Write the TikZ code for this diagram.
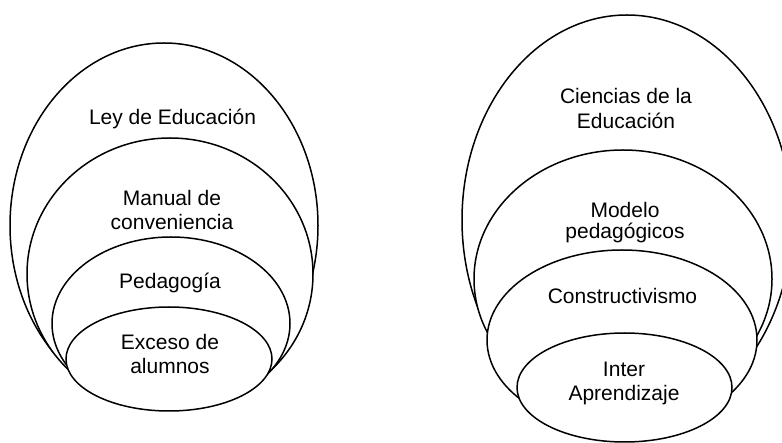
\documentclass[tikz,border=0pt]{standalone}
\usepackage{fontspec}
\setmainfont{Liberation Sans}
\usetikzlibrary{shapes.geometric}
\begin{document}
\begin{tikzpicture}[x=1pt,y=-1pt,
  ring/.style={ellipse, draw=black, fill=white, line width=1.5pt, inner sep=0pt, outer sep=0pt},
  lbl/.style={anchor=base, inner sep=0pt, font=\fontsize{21}{24}\selectfont}]
\useasboundingbox (0,0) rectangle (782,443);
\clip (0,0) rectangle (782,443);
% left stack
\node[ring, minimum width=308pt, minimum height=365pt] (L1) at (164,225.5) {};
\node[ring, minimum width=286pt, minimum height=272pt] (L2) at (170,274) {};
\node[ring, minimum width=238pt, minimum height=173pt] (L3) at (171,323.5) {};
\node[ring, minimum width=206pt, minimum height=104pt] (L4) at (169,359) {};
% right stack
\node[ring, minimum width=330pt, minimum height=410pt] (R1) at (627,220) {};
\node[ring, minimum width=298pt, minimum height=258pt] (R2) at (623,279) {};
\node[ring, minimum width=270pt, minimum height=180pt] (R3) at (622,340) {};
\node[ring, minimum width=215pt, minimum height=109pt] (R4) at (624.5,387.5) {};
% left labels
\node[lbl] (t1) at (172.5,125) {Ley de Educación};
\node[lbl] (t2a) at (172,205.7) {Manual de};
\node[lbl] (t2b) at (172,230) {conveniencia};
\node[lbl] (t3) at (170,289) {Pedagogía};
\node[lbl] (t4a) at (170,350) {Exceso de};
\node[lbl] (t4b) at (170,374) {alumnos};
% right labels
\node[lbl] (s1a) at (626,103.3) {Ciencias de la};
\node[lbl] (s1b) at (626,128.7) {Educación};
\node[lbl] (s2a) at (625,217.3) {Modelo};
\node[lbl] (s2b) at (625,238.3) {pedagógicos};
\node[lbl] (s3) at (622.5,303.3) {Constructivismo};
\node[lbl] (s4a) at (624,376.7) {Inter};
\node[lbl] (s4b) at (624,401) {Aprendizaje};
\end{tikzpicture}
\end{document}
